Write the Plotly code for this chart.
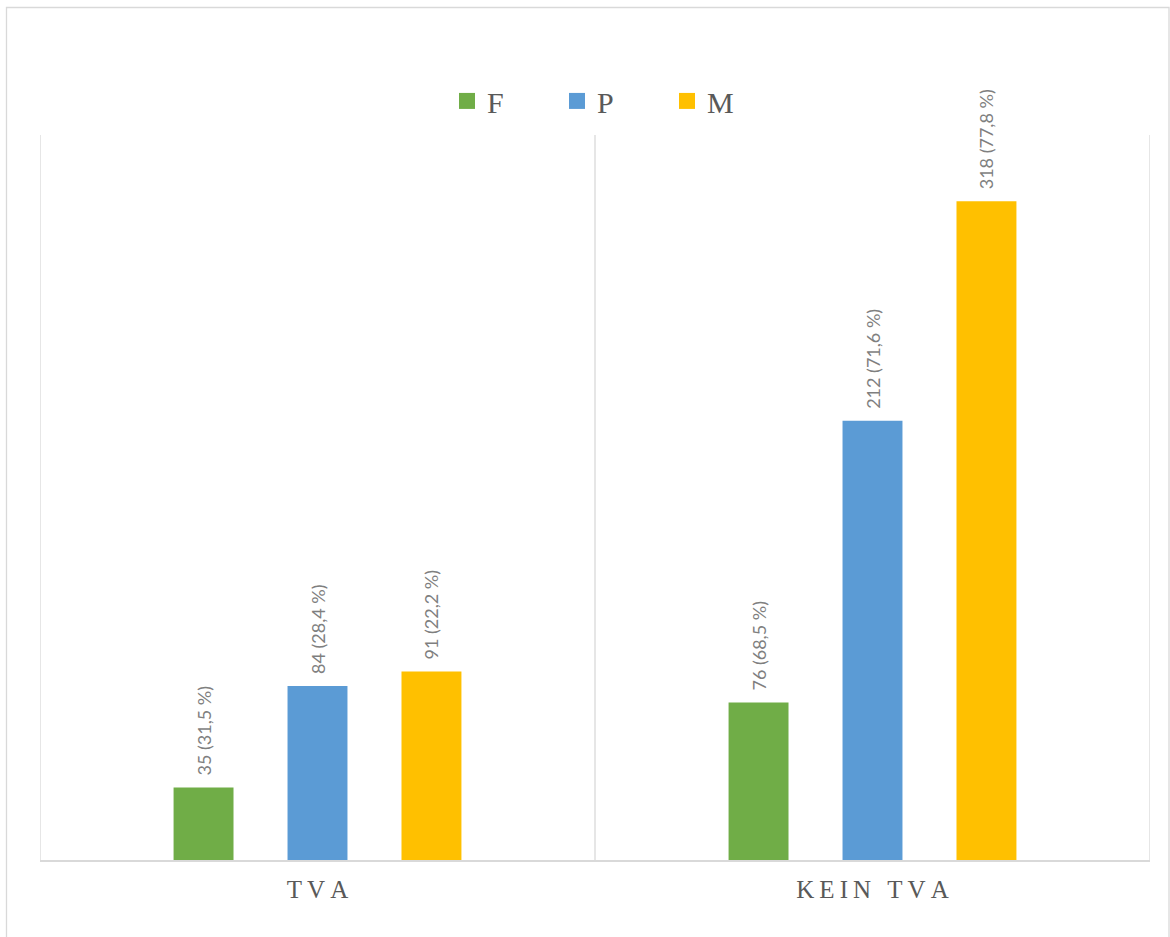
import plotly.graph_objects as go

categories = ["TVA", "KEIN TVA"]
series_names = ["F", "P", "M"]
values_F = [35, 76]
values_P = [84, 212]
values_M = [91, 318]
pct_F = ["31,5", "68,5"]
pct_P = ["28,4", "71,6"]
pct_M = ["22,2", "77,8"]
colors = ["#70AD47", "#5B9BD5", "#FFC000"]

series_values = [values_F, values_P, values_M]
series_pcts = [pct_F, pct_P, pct_M]

def spaced(s):
    return "\u2009".join(list(s))

fig = go.Figure()
for name, vals, pcts, col in zip(series_names, series_values, series_pcts, colors):
    fig.add_trace(go.Bar(
        x=categories, y=vals, name=name, showlegend=False,
        marker=dict(color=col, line=dict(width=0)),
        text=[f"\u2002{v} ({p} %)" for v, p in zip(vals, pcts)],
        textposition="outside", textangle=-90, cliponaxis=False,
        constraintext="none",
        textfont=dict(family="Lato", size=18, color="#7F7F7F"),
    ))
    fig.add_trace(go.Scatter(
        x=[None], y=[None], mode="markers", name=name,
        marker=dict(symbol="square", size=16, color=col),
    ))

# category separators
for xv in [-0.5, 0.5, 1.5]:
    fig.add_shape(type="line", xref="x", yref="paper", x0=xv, x1=xv, y0=0, y1=1,
                  line=dict(color="#D9D9D9", width=1.3), layer="below")

# outer chart border
fig.add_shape(type="rect", xref="paper", yref="paper",
              x0=(6.5 - 40) / 1110, x1=(1169 - 40) / 1110,
              y0=(860 - 945) / 725, y1=1 + (135 - 7.5) / 725,
              line=dict(color="#D9D9D9", width=1.3))

fig.update_layout(
    width=1170, height=937,
    margin=dict(l=40, r=20, t=135, b=77),
    paper_bgcolor="white", plot_bgcolor="white",
    barmode="group", bargap=0.384, bargroupgap=0.474,
    showlegend=True,
    legend=dict(orientation="h", x=0.5 + 17 / 1110, xanchor="center", y=1.047, yanchor="middle",
                font=dict(family="Liberation Serif", size=30, color="#595959"),
                entrywidth=65, entrywidthmode="pixels", itemsizing="trace"),
    xaxis=dict(type="category", range=[-0.5, 1.5], showgrid=False, zeroline=False,
               showline=True, linecolor="#D9D9D9", linewidth=2,
               ticks="", tickmode="array", tickvals=categories,
               ticktext=[spaced(c) for c in categories], ticklabelstandoff=6,
               tickfont=dict(family="Liberation Serif", size=25, color="#595959")),
    yaxis=dict(range=[0, 350], visible=False, showgrid=False, zeroline=False),
)

fig.write_html("out.html")
